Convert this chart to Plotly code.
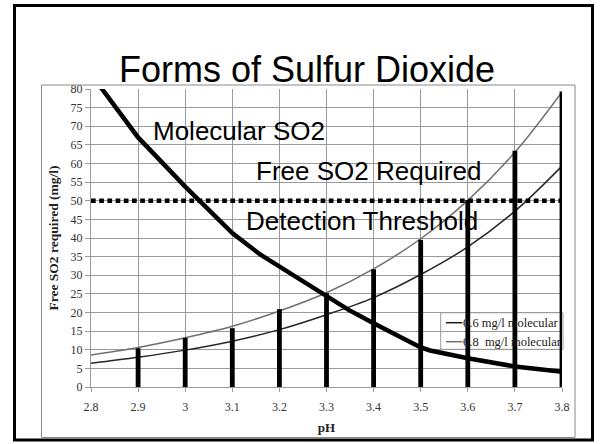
import plotly.graph_objects as go

# ---------------- data ----------------
ph = [2.8, 2.9, 3.0, 3.1, 3.2, 3.3, 3.4, 3.5, 3.6, 3.7, 3.8]
free_so2_08 = [8.6, 10.6, 13.2, 16.3, 20.4, 25.3, 31.7, 39.8, 50.1, 63.0, 79.2]
free_so2_06 = [6.4, 8.0, 9.9, 12.3, 15.4, 19.4, 24.0, 30.2, 37.6, 47.2, 59.3]

molecular_ph = [2.8, 2.9, 3.0, 3.1, 3.16, 3.3, 3.347, 3.4, 3.5, 3.52, 3.6, 3.7, 3.8]
molecular_so2 = [84.0, 67.0, 53.8, 41.3, 35.5, 24.2, 20.7, 17.1, 10.6, 9.8, 7.7, 5.5, 4.1]

bar_ph = [2.9, 3.0, 3.1, 3.2, 3.3, 3.4, 3.5, 3.6, 3.7, 3.8]
bar_so2 = [10.4, 13.2, 15.8, 20.9, 25.2, 31.6, 39.5, 50.2, 63.4, 79.3]

threshold_ph = [2.8, 3.8]
threshold_so2 = [50, 50]

title_text = "Forms of Sulfur Dioxide"
x_title = "pH"
y_title = "Free SO2 required (mg/l)"
legend_labels = ["0.6 mg/l molecular", "0.8\u00a0 mg/l molecular"]
label_molecular = "Molecular SO2"
label_free = "Free SO2 Required"
label_threshold = "Detection Threshold"

# ---------------- layout geometry (pixels) ----------------
WIDTH, HEIGHT = 602, 444
L, R, T, B = 91, 40, 89, 57
PW = WIDTH - L - R
PH = HEIGHT - T - B


def px2x(px):
    return (px - L) / PW


def py2y(py):
    return (T + PH - py) / PH


SANS = "Liberation Sans, Arial, sans-serif"
SERIF = "Liberation Serif, Times New Roman, serif"
GRID = "#9a9a9a"

fig = go.Figure()

fig.add_trace(go.Scatter(x=ph, y=free_so2_08, mode="lines", name=legend_labels[1],
                         line=dict(color="#707070", width=1.5, shape="spline"),
                         showlegend=False))
fig.add_trace(go.Scatter(x=ph, y=free_so2_06, mode="lines", name=legend_labels[0],
                         line=dict(color="#262626", width=1.5, shape="spline"),
                         showlegend=False))
fig.add_trace(go.Scatter(x=threshold_ph, y=threshold_so2, mode="lines", name=label_threshold,
                         line=dict(color="black", width=4.7, dash="4.7px,3.5px"),
                         showlegend=False))
fig.add_trace(go.Scatter(x=molecular_ph, y=molecular_so2, mode="lines", name=label_molecular,
                         line=dict(color="black", width=4.5),
                         showlegend=False))

# vertical bars as line segments (drawn on top)
bx, by = [], []
for xv, yv in zip(bar_ph, bar_so2):
    bx += [xv, xv, None]
    by += [0, yv, None]
fig.add_trace(go.Scatter(x=bx, y=by, mode="lines", name="free SO2 at 0.8",
                         line=dict(color="black", width=4.8),
                         showlegend=False))

shapes = []
# slide border
shapes.append(dict(type="rect", xref="paper", yref="paper",
                   x0=px2x(14.5), x1=px2x(592.5), y0=py2y(440), y1=py2y(5.5),
                   line=dict(color="black", width=3), layer="above"))
# chart frame
shapes.append(dict(type="rect", xref="paper", yref="paper",
                   x0=px2x(41.5), x1=px2x(575), y0=py2y(437.5), y1=py2y(85),
                   line=dict(color="#8a8a8a", width=1), layer="above"))
# manual legend box
shapes.append(dict(type="rect", xref="paper", yref="paper",
                   x0=px2x(440.7), x1=px2x(563), y0=py2y(349.3), y1=py2y(312.7),
                   line=dict(color=GRID, width=1), layer="below"))
leg_rows = [322.7, 341.7]
leg_cols = ["#1a1a1a", "#707070"]
for ry, col in zip(leg_rows, leg_cols):
    shapes.append(dict(type="line", xref="paper", yref="paper",
                       x0=px2x(446), x1=px2x(462.5), y0=py2y(ry), y1=py2y(ry),
                       line=dict(color=col, width=1.5), layer="below"))

annotations = []
annotations.append(dict(text=title_text, xref="paper", yref="paper",
                        x=px2x(307.4), y=py2y(69.5), xanchor="center", yanchor="middle",
                        showarrow=False, font=dict(family=SANS, size=36, color="black")))
for txt, lx, cy in [(label_molecular, 152.7, 131), (label_free, 256, 171.3),
                    (label_threshold, 246, 221.3)]:
    annotations.append(dict(text=txt, xref="paper", yref="paper",
                            x=px2x(lx - 2), y=py2y(cy), xanchor="left", yanchor="middle",
                            showarrow=False, font=dict(family=SANS, size=26, color="black")))
for txt, ry in zip(legend_labels, leg_rows):
    annotations.append(dict(text=txt, xref="paper", yref="paper",
                            x=px2x(461), y=py2y(ry), xanchor="left", yanchor="middle",
                            showarrow=False, font=dict(family=SERIF, size=12.5, color="#222")))

fig.update_layout(
    width=WIDTH, height=HEIGHT,
    margin=dict(l=L, r=R, t=T, b=B, pad=0),
    paper_bgcolor="white", plot_bgcolor="white",
    showlegend=False,
    shapes=shapes, annotations=annotations,
    xaxis=dict(range=[2.8, 3.8], dtick=0.1, tick0=2.8, showgrid=True, gridcolor=GRID,
               gridwidth=1, showline=True, linecolor=GRID, linewidth=1, zeroline=False,
               ticks="outside", ticklen=4, tickcolor=GRID, ticklabelstandoff=5,
               tickfont=dict(family=SERIF, size=12, color="#333"),
               title=dict(text="<b>" + x_title + "</b>", standoff=9,
                          font=dict(family=SERIF, size=13, color="#222"))),
    yaxis=dict(range=[0, 80], dtick=5, tick0=0, showgrid=True, gridcolor=GRID,
               gridwidth=1, showline=True, linecolor=GRID, linewidth=1, zeroline=False,
               ticks="outside", ticklen=5, tickcolor=GRID,
               tickfont=dict(family=SERIF, size=12, color="#333"),
               title=dict(text="<b>" + y_title + "</b>", standoff=8,
                          font=dict(family=SERIF, size=13.5, color="#222"))),
)

fig.write_html(
    "out.html",
    config={"displayModeBar": False},
    post_script="document.body.style.margin='0px';document.body.style.overflow='hidden';",
)
